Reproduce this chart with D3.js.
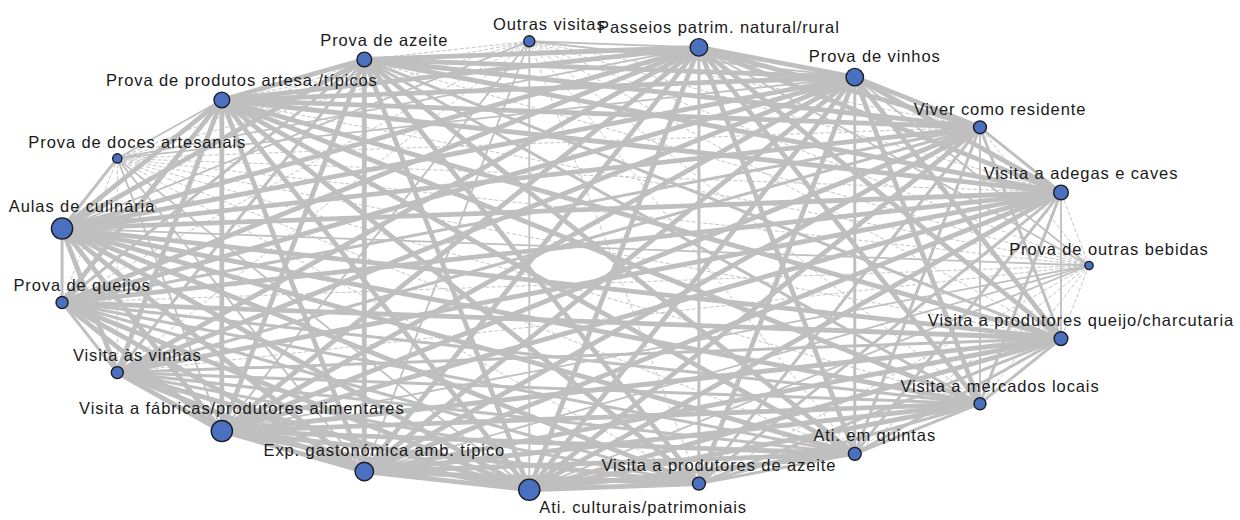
<!DOCTYPE html>
<html>
<head>
<meta charset="utf-8">
<script src="https://cdn.jsdelivr.net/npm/d3@7"></script>
<style>
  html, body { margin: 0; padding: 0; background: #fff; }
  svg { display: block; }
  .lbl { font-family: "Liberation Sans", Arial, sans-serif; font-size: 16.5px; fill: #1a1a1a; letter-spacing: 0.9px; }
</style>
</head>
<body>
<svg id="chart" width="1240" height="520"></svg>
<script>
// Nodes, in layout order (counter-clockwise starting at the right-most position)
const categories = [
  "Prova de outras bebidas",
  "Visita a adegas e caves",
  "Viver como residente",
  "Prova de vinhos",
  "Passeios patrim. natural/rural",
  "Outras visitas",
  "Prova de azeite",
  "Prova de produtos artesa./típicos",
  "Prova de doces artesanais",
  "Aulas de culinária",
  "Prova de queijos",
  "Visita às vinhas",
  "Visita a fábricas/produtores alimentares",
  "Exp. gastonómica amb. típico",
  "Ati. culturais/patrimoniais",
  "Visita a produtores de azeite",
  "Ati. em quintas",
  "Visita a mercados locais",
  "Visita a produtores queijo/charcutaria"
];

// Relative node frequency (node size)
const nodeFreq = [15, 48, 37, 68, 68, 27, 48, 55, 19, 100, 32, 32, 100, 76, 100, 37, 37, 32, 42];

// Link strength, upper triangle: row i lists links to nodes i+1 .. n-1
// 0 = weak (dashed), 1 = thin, 2 = medium, 3 = strong
const linkRows = [
  "001100001001110000",
  "23303303333332221",
  "3303303223332212",
  "313313333333233",
  "13313333332333",
  "0001001110000",
  "303223333322",
  "13333333333",
  "2001110000",
  "233333333",
  "23332223",
  "3332222",
  "333333",
  "33333",
  "3333",
  "222",
  "22",
  "2"
];

const W = 1240, H = 520;
const svg = d3.select("#chart");

const n = categories.length;
const nodes = categories.map((name, i) => ({ name, i, freq: nodeFreq[i], angle: i * 2 * Math.PI / n }));

const links = [];
linkRows.forEach((row, i) => {
  row.split("").forEach((c, k) => {
    links.push({ s: i, t: i + 1 + k, level: +c });
  });
});

// Circular (elliptic) layout through scales
const x = d3.scaleLinear().domain([-1, 1]).range([55, 1089]);
const y = d3.scaleLinear().domain([-1, 1]).range([490.5, 40.5]);
const r = d3.scaleSqrt().domain([0, 100]).range([0, 10.6]);
const widthScale = d3.scaleOrdinal().domain([0, 1, 2, 3]).range([1, 1.8, 3, 4.8]);

nodes.forEach(d => { d.x = x(Math.cos(d.angle)); d.y = y(Math.sin(d.angle)); d.r = r(d.freq); });

svg.append("rect").attr("width", W).attr("height", H).attr("fill", "#fff");

const gLinks = svg.append("g");
gLinks.selectAll("line")
  .data(links.slice().sort((a, b) => a.level - b.level))
  .join("line")
  .attr("x1", d => nodes[d.s].x).attr("y1", d => nodes[d.s].y)
  .attr("x2", d => nodes[d.t].x).attr("y2", d => nodes[d.t].y)
  .attr("stroke", d => d.level === 0 ? "#c6c6c6" : "#bfbfbf")
  .attr("stroke-width", d => widthScale(d.level))
  .attr("stroke-dasharray", d => d.level === 0 ? "4,2" : null);

const gNodes = svg.append("g");
gNodes.selectAll("circle")
  .data(nodes)
  .join("circle")
  .attr("cx", d => d.x).attr("cy", d => d.y).attr("r", d => d.r)
  .attr("fill", "#4a70bf").attr("stroke", "#1c1c24").attr("stroke-width", 1.4);

const bottomNode = d3.greatest(nodes, d => d.y);
const gLabels = svg.append("g");
gLabels.selectAll("text")
  .data(nodes)
  .join("text")
  .attr("class", "lbl")
  .attr("x", d => d === bottomNode ? d.x + 10 : d.x + 20)
  .attr("y", d => d === bottomNode ? d.y + d.r + 13 : d.y - d.r - 6)
  .attr("text-anchor", d => d === bottomNode ? "start" : "middle")
  .text(d => d.name);
</script>
</body>
</html>
